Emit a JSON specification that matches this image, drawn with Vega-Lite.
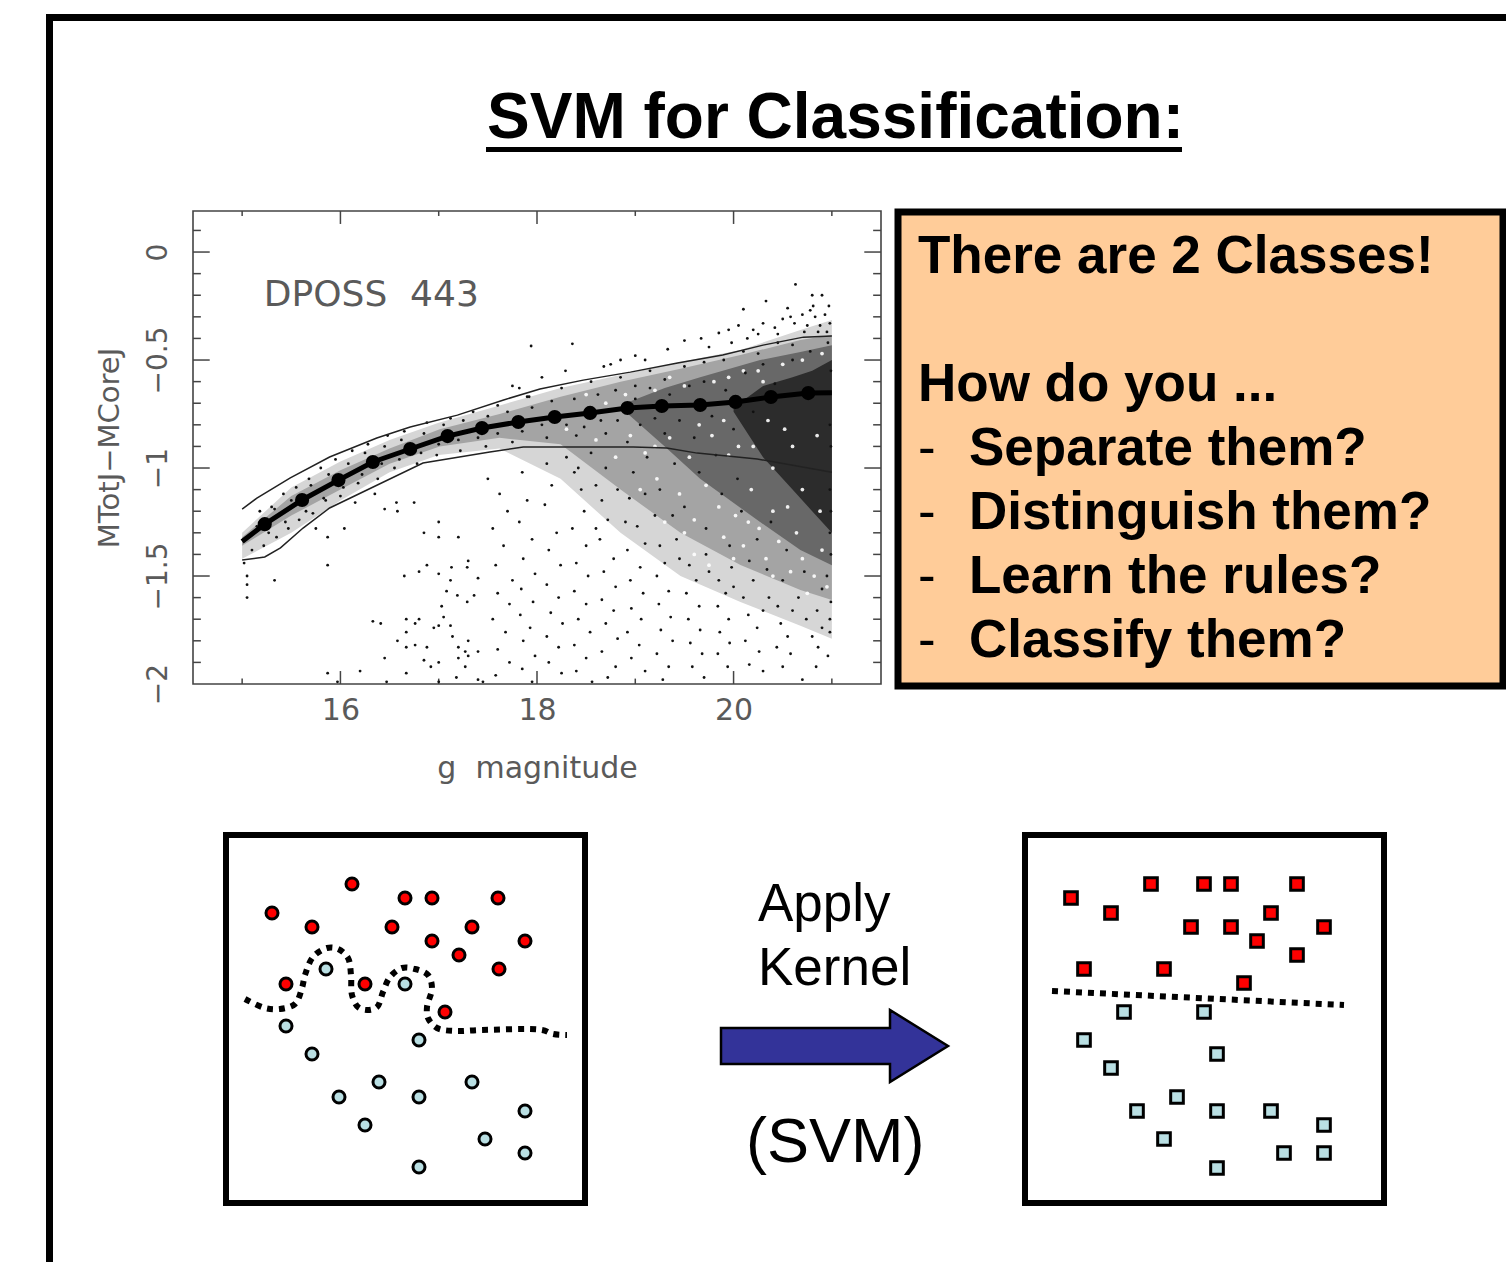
{
"$schema":"https://vega.github.io/schema/vega-lite/v6.json",
"width":1506,"height":1262,"autosize":{"type":"fit","contains":"padding"},"padding":0,
"background":"white","config":{"view":{"stroke":null}},
"datasets":{
"frame":[{"g":14.5,"g2":21.5,"m":-2,"m2":0.19}],
"ticksX":[{"g":15,"a":-2,"b":-1.975},{"g":16,"a":-2,"b":-1.94},{"g":17,"a":-2,"b":-1.975},{"g":18,"a":-2,"b":-1.94},{"g":19,"a":-2,"b":-1.975},{"g":20,"a":-2,"b":-1.94},{"g":21,"a":-2,"b":-1.975},{"g":15,"a":0.19,"b":0.167},{"g":16,"a":0.19,"b":0.13},{"g":17,"a":0.19,"b":0.167},{"g":18,"a":0.19,"b":0.13},{"g":19,"a":0.19,"b":0.167},{"g":20,"a":0.19,"b":0.13},{"g":21,"a":0.19,"b":0.167}],
"ticksY":[{"m":0.1,"a":14.5,"b":14.58},{"m":0,"a":14.5,"b":14.67},{"m":-0.1,"a":14.5,"b":14.58},{"m":-0.2,"a":14.5,"b":14.58},{"m":-0.3,"a":14.5,"b":14.58},{"m":-0.4,"a":14.5,"b":14.58},{"m":-0.5,"a":14.5,"b":14.67},{"m":-0.6,"a":14.5,"b":14.58},{"m":-0.7,"a":14.5,"b":14.58},{"m":-0.8,"a":14.5,"b":14.58},{"m":-0.9,"a":14.5,"b":14.58},{"m":-1,"a":14.5,"b":14.67},{"m":-1.1,"a":14.5,"b":14.58},{"m":-1.2,"a":14.5,"b":14.58},{"m":-1.3,"a":14.5,"b":14.58},{"m":-1.4,"a":14.5,"b":14.58},{"m":-1.5,"a":14.5,"b":14.67},{"m":-1.6,"a":14.5,"b":14.58},{"m":-1.7,"a":14.5,"b":14.58},{"m":-1.8,"a":14.5,"b":14.58},{"m":-1.9,"a":14.5,"b":14.58},{"m":0.1,"a":21.5,"b":21.42},{"m":0,"a":21.5,"b":21.33},{"m":-0.1,"a":21.5,"b":21.42},{"m":-0.2,"a":21.5,"b":21.42},{"m":-0.3,"a":21.5,"b":21.42},{"m":-0.4,"a":21.5,"b":21.42},{"m":-0.5,"a":21.5,"b":21.33},{"m":-0.6,"a":21.5,"b":21.42},{"m":-0.7,"a":21.5,"b":21.42},{"m":-0.8,"a":21.5,"b":21.42},{"m":-0.9,"a":21.5,"b":21.42},{"m":-1,"a":21.5,"b":21.33},{"m":-1.1,"a":21.5,"b":21.42},{"m":-1.2,"a":21.5,"b":21.42},{"m":-1.3,"a":21.5,"b":21.42},{"m":-1.4,"a":21.5,"b":21.42},{"m":-1.5,"a":21.5,"b":21.33},{"m":-1.6,"a":21.5,"b":21.42},{"m":-1.7,"a":21.5,"b":21.42},{"m":-1.8,"a":21.5,"b":21.42},{"m":-1.9,"a":21.5,"b":21.42}],
"bands":[
{"l":"1","g":15,"t":-1.3,"u":-1.42},{"l":"1","g":15.5,"t":-1.09,"u":-1.3},{"l":"1","g":16,"t":-0.97,"u":-1.15},{"l":"1","g":16.5,"t":-0.87,"u":-1.02},{"l":"1","g":17,"t":-0.79,"u":-0.94},{"l":"1","g":17.62,"t":-0.71,"u":-0.91},{"l":"1","g":18.24,"t":-0.63,"u":-1.05},{"l":"1","g":18.85,"t":-0.569,"u":-1.3},{"l":"1","g":19.46,"t":-0.509,"u":-1.5},{"l":"1","g":20.07,"t":-0.454,"u":-1.62},{"l":"1","g":20.68,"t":-0.361,"u":-1.73},{"l":"1","g":21,"t":-0.315,"u":-1.79},
{"l":"2","g":15,"t":-1.32,"u":-1.36},{"l":"2","g":15.5,"t":-1.13,"u":-1.22},{"l":"2","g":16,"t":-1.01,"u":-1.1},{"l":"2","g":16.5,"t":-0.91,"u":-0.98},{"l":"2","g":17.01,"t":-0.82,"u":-0.9},{"l":"2","g":17.62,"t":-0.75,"u":-0.86},{"l":"2","g":18.24,"t":-0.67,"u":-0.89},{"l":"2","g":18.85,"t":-0.6,"u":-1.1},{"l":"2","g":19.46,"t":-0.54,"u":-1.3},{"l":"2","g":20.07,"t":-0.477,"u":-1.449},{"l":"2","g":20.68,"t":-0.407,"u":-1.565},{"l":"2","g":21,"t":-0.384,"u":-1.611},
{"l":"3","g":18.9,"t":-0.7,"u":-0.74},{"l":"3","g":19.3,"t":-0.63,"u":-0.9},{"l":"3","g":19.66,"t":-0.58,"u":-1.05},{"l":"3","g":20.27,"t":-0.5,"u":-1.25},{"l":"3","g":20.68,"t":-0.463,"u":-1.38},{"l":"3","g":21,"t":-0.431,"u":-1.45},
{"l":"4","g":20,"t":-0.72,"u":-0.74},{"l":"4","g":20.3,"t":-0.62,"u":-0.95},{"l":"4","g":20.6,"t":-0.58,"u":-1.1},{"l":"4","g":20.8,"t":-0.55,"u":-1.2},{"l":"4","g":21,"t":-0.5,"u":-1.3}],
"curves":[
{"k":"upper","g":15,"m":-1.19},{"k":"upper","g":15.15,"m":-1.139},{"k":"upper","g":15.49,"m":-1.046},{"k":"upper","g":15.89,"m":-0.949},{"k":"upper","g":16.37,"m":-0.861},{"k":"upper","g":16.71,"m":-0.81},{"k":"upper","g":17.19,"m":-0.755},{"k":"upper","g":17.66,"m":-0.685},{"k":"upper","g":18.03,"m":-0.634},{"k":"upper","g":18.47,"m":-0.593},{"k":"upper","g":18.95,"m":-0.556},{"k":"upper","g":19.43,"m":-0.514},{"k":"upper","g":19.89,"m":-0.477},{"k":"upper","g":20.3,"m":-0.431},{"k":"upper","g":20.71,"m":-0.394},{"k":"upper","g":21,"m":-0.389},
{"k":"lower","g":15,"m":-1.426},{"k":"lower","g":15.23,"m":-1.412},{"k":"lower","g":15.39,"m":-1.37},{"k":"lower","g":15.62,"m":-1.278},{"k":"lower","g":15.89,"m":-1.185},{"k":"lower","g":16.27,"m":-1.102},{"k":"lower","g":16.84,"m":-0.977},{"k":"lower","g":17.52,"m":-0.926},{"k":"lower","g":17.86,"m":-0.903},{"k":"lower","g":18.37,"m":-0.903},{"k":"lower","g":18.98,"m":-0.903},{"k":"lower","g":19.32,"m":-0.907},{"k":"lower","g":19.63,"m":-0.931},{"k":"lower","g":20.24,"m":-0.958},{"k":"lower","g":21,"m":-1.02}],
"locus":[{"g":15,"m":-1.34},{"g":15.23,"m":-1.26},{"g":15.61,"m":-1.148},{"g":15.98,"m":-1.056},{"g":16.33,"m":-0.972},{"g":16.71,"m":-0.912},{"g":17.09,"m":-0.852},{"g":17.44,"m":-0.815},{"g":17.81,"m":-0.787},{"g":18.18,"m":-0.764},{"g":18.54,"m":-0.745},{"g":18.92,"m":-0.722},{"g":19.27,"m":-0.713},{"g":19.66,"m":-0.708},{"g":20.02,"m":-0.694},{"g":20.38,"m":-0.671},{"g":20.76,"m":-0.653},{"g":21,"m":-0.652}],
"dark":[{"g":15.02,"m":-1.44},{"g":15.05,"m":-1.5},{"g":15.05,"m":-1.54},{"g":15.05,"m":-1.6},{"g":15.33,"m":-1.52},{"g":16.04,"m":-1.28},{"g":15.87,"m":-1.32},{"g":15.87,"m":-1.45},{"g":16.45,"m":-1.19},{"g":16.57,"m":-1.16},{"g":16.58,"m":-1.2},{"g":16.75,"m":-1.16},{"g":17,"m":-1.25},{"g":16.85,"m":-1.3},{"g":17,"m":-1.32},{"g":17.2,"m":-1.32},{"g":17.3,"m":-1.43},{"g":16.88,"m":-1.45},{"g":16.8,"m":-1.48},{"g":17,"m":-1.49},{"g":16.65,"m":-1.5},{"g":17.13,"m":-1.46},{"g":17.29,"m":-1.46},{"g":17.4,"m":-1.51},{"g":17.08,"m":-1.57},{"g":17.12,"m":-1.52},{"g":17.29,"m":-1.62},{"g":17.19,"m":-1.59},{"g":17.36,"m":-1.59},{"g":17.03,"m":-1.64},{"g":17.05,"m":-1.69},{"g":17.12,"m":-1.73},{"g":17,"m":-1.73},{"g":16.95,"m":-1.74},{"g":16.8,"m":-1.7},{"g":16.76,"m":-1.72},{"g":16.67,"m":-1.7},{"g":16.33,"m":-1.71},{"g":16.41,"m":-1.72},{"g":16.67,"m":-1.76},{"g":16.58,"m":-1.8},{"g":16.67,"m":-1.83},{"g":16.76,"m":-1.82},{"g":16.88,"m":-1.83},{"g":17.14,"m":-1.78},{"g":17.2,"m":-1.83},{"g":17.27,"m":-1.85},{"g":17.3,"m":-1.8},{"g":17.4,"m":-1.85},{"g":17.2,"m":-1.88},{"g":17.3,"m":-1.87},{"g":17.27,"m":-1.92},{"g":16.85,"m":-1.89},{"g":16.92,"m":-1.92},{"g":17,"m":-1.9},{"g":16.45,"m":-1.88},{"g":16.67,"m":-1.95},{"g":16.2,"m":-1.94},{"g":15.87,"m":-1.95},{"g":15.97,"m":-1.99},{"g":17.18,"m":-1.97},{"g":16.47,"m":-1.99},{"g":17,"m":-1.99},{"g":17.45,"m":-1.99},{"g":17.4,"m":-1.98},
{"g":17.5,"m":-1.05},{"g":17.62,"m":-1.12},{"g":17.7,"m":-1.2},{"g":17.55,"m":-1.28},{"g":17.66,"m":-1.36},{"g":17.58,"m":-1.45},{"g":17.75,"m":-1.52},{"g":17.6,"m":-1.58},{"g":17.72,"m":-1.63},{"g":17.55,"m":-1.7},{"g":17.68,"m":-1.76},{"g":17.6,"m":-1.84},{"g":17.72,"m":-1.9},{"g":17.58,"m":-1.96},{"g":17.85,"m":-1.02},{"g":17.9,"m":-1.15},{"g":17.82,"m":-1.25},{"g":17.95,"m":-1.33},{"g":17.86,"m":-1.42},{"g":17.98,"m":-1.49},{"g":17.84,"m":-1.56},{"g":17.96,"m":-1.62},{"g":17.83,"m":-1.68},{"g":17.93,"m":-1.74},{"g":17.86,"m":-1.8},{"g":17.98,"m":-1.87},{"g":17.85,"m":-1.93},{"g":17.95,"m":-1.99},{"g":18.1,"m":-0.98},{"g":18.15,"m":-1.08},{"g":18.08,"m":-1.17},{"g":18.2,"m":-1.3},{"g":18.12,"m":-1.38},{"g":18.24,"m":-1.45},{"g":18.1,"m":-1.54},{"g":18.22,"m":-1.6},{"g":18.14,"m":-1.67},{"g":18.26,"m":-1.72},{"g":18.1,"m":-1.78},{"g":18.22,"m":-1.83},{"g":18.12,"m":-1.9},{"g":18.25,"m":-1.95},{"g":18.38,"m":-1.02},{"g":18.45,"m":-1.1},{"g":18.36,"m":-1.28},{"g":18.5,"m":-1.36},{"g":18.4,"m":-1.44},{"g":18.52,"m":-1.5},{"g":18.38,"m":-1.57},{"g":18.5,"m":-1.63},{"g":18.42,"m":-1.7},{"g":18.54,"m":-1.76},{"g":18.38,"m":-1.82},{"g":18.5,"m":-1.88},{"g":18.4,"m":-1.94},{"g":18.56,"m":-1.99},{"g":18.66,"m":-1.15},{"g":18.72,"m":-1.24},{"g":18.64,"m":-1.33},{"g":18.78,"m":-1.42},{"g":18.68,"m":-1.48},{"g":18.8,"m":-1.55},{"g":18.66,"m":-1.61},{"g":18.78,"m":-1.66},{"g":18.7,"m":-1.72},{"g":18.82,"m":-1.79},{"g":18.66,"m":-1.85},{"g":18.8,"m":-1.92},{"g":18.72,"m":-1.97},{"g":18.98,"m":-1.02},{"g":18.94,"m":-1.14},{"g":19.02,"m":-1.27},{"g":18.92,"m":-1.38},{"g":19.05,"m":-1.46},{"g":18.95,"m":-1.52},{"g":19.08,"m":-1.58},{"g":18.96,"m":-1.65},{"g":19.06,"m":-1.7},{"g":18.92,"m":-1.76},{"g":19.04,"m":-1.82},{"g":18.96,"m":-1.88},{"g":19.1,"m":-1.94},{"g":19.25,"m":-1.36},{"g":19.3,"m":-1.44},{"g":19.22,"m":-1.5},{"g":19.34,"m":-1.57},{"g":19.24,"m":-1.63},{"g":19.36,"m":-1.69},{"g":19.26,"m":-1.75},{"g":19.38,"m":-1.8},{"g":19.22,"m":-1.86},{"g":19.34,"m":-1.92},{"g":19.28,"m":-1.98},{"g":19.55,"m":-1.45},{"g":19.62,"m":-1.52},{"g":19.52,"m":-1.58},{"g":19.65,"m":-1.64},{"g":19.54,"m":-1.7},{"g":19.66,"m":-1.75},{"g":19.56,"m":-1.81},{"g":19.68,"m":-1.86},{"g":19.58,"m":-1.92},{"g":19.7,"m":-1.97},{"g":19.85,"m":-1.52},{"g":19.92,"m":-1.58},{"g":19.84,"m":-1.64},{"g":19.95,"m":-1.7},{"g":19.86,"m":-1.76},{"g":19.96,"m":-1.81},{"g":19.84,"m":-1.86},{"g":19.94,"m":-1.92},{"g":20.15,"m":-1.68},{"g":20.24,"m":-1.74},{"g":20.12,"m":-1.8},{"g":20.26,"m":-1.85},{"g":20.16,"m":-1.91},{"g":20.3,"m":-1.94},{"g":20.48,"m":-1.72},{"g":20.55,"m":-1.78},{"g":20.44,"m":-1.83},{"g":20.58,"m":-1.86},{"g":20.5,"m":-1.92},{"g":20.7,"m":-1.98},{"g":20.8,"m":-1.78},{"g":20.9,"m":-1.74},{"g":20.98,"m":-1.7},{"g":20.98,"m":-1.76},{"g":20.86,"m":-1.83},{"g":20.96,"m":-1.87},{"g":20.84,"m":-1.92},
{"g":20.63,"m":-0.15},{"g":20.8,"m":-0.2},{"g":20.9,"m":-0.2},{"g":20.33,"m":-0.227},{"g":20.97,"m":-0.25},{"g":20.81,"m":-0.25},{"g":20.1,"m":-0.265},{"g":20.58,"m":-0.3},{"g":20.05,"m":-0.34},{"g":19.85,"m":-0.375},{"g":17.94,"m":-0.435},{"g":18.36,"m":-0.425},{"g":18.29,"m":-0.55},{"g":18.68,"m":-0.53},{"g":18.75,"m":-0.52},{"g":19,"m":-0.48},{"g":19.33,"m":-0.45},{"g":19.5,"m":-0.41},{"g":19.67,"m":-0.4},{"g":17.82,"m":-0.63},{"g":17.9,"m":-0.67},{"g":20.2,"m":-0.36},{"g":20.3,"m":-0.33},{"g":20.42,"m":-0.35},{"g":20.5,"m":-0.31},{"g":20.62,"m":-0.33},{"g":20.7,"m":-0.29},{"g":20.75,"m":-0.34},{"g":20.83,"m":-0.3},{"g":20.88,"m":-0.34},{"g":20.93,"m":-0.29},{"g":20.98,"m":-0.33},{"g":20.72,"m":-0.37},{"g":20.86,"m":-0.37},{"g":19.98,"m":-0.42},{"g":20.14,"m":-0.4},
{"g":15.1,"m":-1.38},{"g":15.18,"m":-1.2},{"g":15.22,"m":-1.36},{"g":15.3,"m":-1.18},{"g":15.35,"m":-1.32},{"g":15.42,"m":-1.12},{"g":15.47,"m":-1.28},{"g":15.55,"m":-1.09},{"g":15.58,"m":-1.24},{"g":15.68,"m":-1.05},{"g":15.72,"m":-1.21},{"g":15.8,"m":-1},{"g":15.85,"m":-1.15},{"g":15.95,"m":-0.96},{"g":16,"m":-1.13},{"g":16.12,"m":-0.92},{"g":16.18,"m":-1.07},{"g":16.28,"m":-0.89},{"g":16.38,"m":-1.05},{"g":16.48,"m":-0.85},{"g":16.55,"m":-1},{"g":16.65,"m":-0.83},{"g":16.78,"m":-0.98},{"g":16.88,"m":-0.79},{"g":16.98,"m":-0.94},{"g":17.12,"m":-0.77},{"g":17.22,"m":-0.92},{"g":17.35,"m":-0.74},{"g":17.48,"m":-0.9},{"g":17.6,"m":-0.71},{"g":17.75,"m":-0.88},{"g":17.92,"m":-0.67},{"g":18.1,"m":-0.86},{"g":18.25,"m":-0.63},{"g":18.4,"m":-0.85},{"g":18.55,"m":-0.6},{"g":18.7,"m":-0.84},{"g":18.85,"m":-0.58},{"g":19,"m":-0.62},{"g":19.15,"m":-0.55},{"g":19.3,"m":-0.59},{"g":19.5,"m":-0.53},{"g":19.7,"m":-0.51},{"g":19.9,"m":-0.5},{"g":20.1,"m":-0.46},{"g":20.25,"m":-0.47},{"g":20.45,"m":-0.42},{"g":20.6,"m":-0.43},
{"g":15.15,"m":-1.27},{"g":15.27,"m":-1.3},{"g":15.33,"m":-1.19},{"g":15.44,"m":-1.25},{"g":15.5,"m":-1.15},{"g":15.65,"m":-1.2},{"g":15.7,"m":-1.08},{"g":15.83,"m":-1.14},{"g":15.88,"m":-1.03},{"g":16.03,"m":-1.09},{"g":16.08,"m":-0.98},{"g":16.22,"m":-1.03},{"g":16.25,"m":-0.93},{"g":16.42,"m":-0.98},{"g":16.45,"m":-0.9},{"g":16.6,"m":-0.96},{"g":16.62,"m":-0.87},{"g":16.82,"m":-0.93},{"g":16.85,"m":-0.84},{"g":17,"m":-0.89},{"g":17.05,"m":-0.8},{"g":17.2,"m":-0.87},{"g":17.25,"m":-0.78},{"g":17.4,"m":-0.86},{"g":17.5,"m":-0.76},{"g":17.6,"m":-0.84},{"g":17.7,"m":-0.74},{"g":17.85,"m":-0.83},{"g":17.95,"m":-0.72},{"g":18.05,"m":-0.8},{"g":18.15,"m":-0.69},{"g":18.3,"m":-0.8},{"g":18.38,"m":-0.68},{"g":18.48,"m":-0.81},{"g":18.62,"m":-0.66},{"g":18.65,"m":-0.78},{"g":18.8,"m":-0.64},{"g":18.82,"m":-0.78},{"g":18.92,"m":-0.88},{"g":19,"m":-0.68},{"g":19.05,"m":-0.8},{"g":19.12,"m":-0.95},{"g":19.15,"m":-0.63},{"g":19.2,"m":-0.77},{"g":19.25,"m":-1.1},{"g":19.3,"m":-0.84},{"g":19.35,"m":-0.66},{"g":19.4,"m":-0.98},{"g":19.45,"m":-0.78},{"g":19.5,"m":-1.18},{"g":19.55,"m":-0.62},{"g":19.6,"m":-0.86},{"g":19.65,"m":-1.02},{"g":19.7,"m":-0.6},{"g":19.72,"m":-1.28},{"g":19.78,"m":-0.76},{"g":19.82,"m":-0.94},{"g":19.88,"m":-1.12},{"g":19.92,"m":-0.64},{"g":19.96,"m":-1.36},{"g":20,"m":-0.82},{"g":20.04,"m":-1.05},{"g":20.08,"m":-1.2},{"g":20.12,"m":-0.56},{"g":20.16,"m":-1.43},{"g":20.2,"m":-0.74},{"g":20.24,"m":-1.33},{"g":20.3,"m":-0.52},{"g":20.34,"m":-1.47},{"g":20.38,"m":-1.25},{"g":20.42,"m":-0.61},{"g":20.5,"m":-1.52},{"g":20.54,"m":-1.38},{"g":20.6,"m":-0.5},{"g":20.66,"m":-1.6},{"g":20.72,"m":-1.48},{"g":20.78,"m":-0.46},{"g":20.85,"m":-1.66},{"g":20.9,"m":-1.56},{"g":20.96,"m":-0.42},{"g":20.99,"m":-1.62},
{"g":18.3,"m":-0.95},{"g":18.42,"m":-1},{"g":18.55,"m":-0.93},{"g":18.6,"m":-1.08},{"g":18.7,"m":-1},{"g":18.48,"m":-1.2},{"g":18.82,"m":-1.1},{"g":18.9,"m":-1.25},{"g":18.6,"m":-1.28},{"g":19.1,"m":-1.12},{"g":19.1,"m":-1.35},{"g":19.2,"m":-1.22},{"g":19.38,"m":-1.22},{"g":19.42,"m":-1.33},{"g":19.45,"m":-1.42},{"g":19.72,"m":-1.4},{"g":19.75,"m":-1.48},{"g":19.98,"m":-1.46},{"g":20,"m":-1.55},{"g":20.2,"m":-1.52},{"g":20.1,"m":-1.6},{"g":20.36,"m":-1.6},{"g":20.3,"m":-1.66},{"g":20.6,"m":-1.66},{"g":20.45,"m":-1.64},{"g":20.74,"m":-1.7},{"g":20.95,"m":-1.5},{"g":20.99,"m":-1.4},{"g":20.98,"m":-1.3},{"g":20.99,"m":-1.2},{"g":20.98,"m":-1.1},{"g":20.99,"m":-0.9},{"g":20.98,"m":-0.8},{"g":20.99,"m":-0.55},
{"g":15.75,"m":-1.28},{"g":16.15,"m":-1.16},{"g":16.35,"m":-1.12},{"g":17.75,"m":-0.62},{"g":18.05,"m":-0.58},{"g":18.85,"m":-0.5},{"g":19.1,"m":-0.5},{"g":19.75,"m":-0.44},{"g":19.95,"m":-0.36},{"g":20.25,"m":-0.38},{"g":20.45,"m":-0.38},{"g":20.55,"m":-0.26},{"g":20.78,"m":-0.27},{"g":20.95,"m":-0.37}],
"white":[{"g":18.6,"m":-0.87},{"g":18.3,"m":-0.82},{"g":18.8,"m":-0.95},{"g":18.95,"m":-0.85},{"g":19.1,"m":-0.93},{"g":19.22,"m":-1.05},{"g":19.35,"m":-0.86},{"g":19.45,"m":-1.12},{"g":19.55,"m":-0.95},{"g":19.6,"m":-1.24},{"g":19.72,"m":-1.08},{"g":19.78,"m":-0.85},{"g":19.85,"m":-1.18},{"g":19.9,"m":-1.32},{"g":19.95,"m":-0.94},{"g":20.02,"m":-1.22},{"g":20.1,"m":-1.36},{"g":20.18,"m":-1.1},{"g":20.2,"m":-0.9},{"g":20.26,"m":-1.28},{"g":20.33,"m":-1.42},{"g":20.4,"m":-1.2},{"g":20.46,"m":-1.34},{"g":20.52,"m":-0.82},{"g":20.58,"m":-1.48},{"g":20.64,"m":-1.3},{"g":20.7,"m":-1.42},{"g":20.82,"m":-1.5},{"g":20.9,"m":-1.38},{"g":20.95,"m":-1.55},{"g":20.1,"m":-0.55},{"g":20.3,"m":-0.6},{"g":20.5,"m":-0.52},{"g":20.7,"m":-0.5},{"g":20.9,"m":-0.47},{"g":19.8,"m":-0.6},{"g":19.5,"m":-0.62},{"g":19.2,"m":-0.64},{"g":18.9,"m":-0.66},{"g":19.6,"m":-1.4},{"g":19.3,"m":-1.25},{"g":19.75,"m":-1.45},{"g":19.2,"m":-0.9},{"g":19.65,"m":-0.8},{"g":19.9,"m":-0.78},{"g":20.05,"m":-0.9},{"g":20.35,"m":-0.78},{"g":20.4,"m":-1},{"g":20.6,"m":-0.9},{"g":20.7,"m":-1.1},{"g":20.85,"m":-0.85},{"g":20.88,"m":-1.2},{"g":20.15,"m":-1.25},{"g":20.55,"m":-1.18},{"g":18.5,"m":-0.66},{"g":18.7,"m":-0.7},{"g":19.35,"m":-0.58},{"g":19.95,"m":-0.58},{"g":20.25,"m":-0.55},{"g":19.05,"m":-1.1},{"g":19.5,"m":-1.3},{"g":20,"m":-1.42},{"g":20.4,"m":-1.5},{"g":20.75,"m":-1.58}],
"label":[{"g":15.22,"m":-0.25,"t":"DPOSS\u00a0\u00a0443"}],
"rects":[{"x":46,"x2":53,"y":14,"y2":1262},{"x":46,"x2":1506,"y":14,"y2":21},{"x":486,"x2":1182,"y":147,"y2":152}],
"box":[{"x":898,"x2":1503,"y":212,"y2":686}],
"panels":[{"x":226,"x2":585,"y":835,"y2":1203},{"x":1025,"x2":1384,"y":835,"y2":1203}],
"title":[{"x":487,"y":138,"t":"SVM for Classification:"}],
"boxText":[{"x":918,"y":273,"t":"There are 2 Classes!"},{"x":918,"y":401,"t":"How do you ..."},{"x":969,"y":465,"t":"Separate them?"},{"x":969,"y":529,"t":"Distinguish them?"},{"x":969,"y":593,"t":"Learn the rules?"},{"x":969,"y":657,"t":"Classify them?"}],
"dashes":[{"x":918,"y":465,"t":"-"},{"x":918,"y":529,"t":"-"},{"x":918,"y":593,"t":"-"},{"x":918,"y":657,"t":"-"}],
"apply":[{"x":758,"y":921,"t":"Apply"},{"x":758,"y":985,"t":"Kernel"}],
"svm":[{"x":746,"y":1162,"t":"(SVM)"}],
"arrow":[{"x":721,"y":1028,"y2":1064},{"x":890,"y":1028,"y2":1064},{"x":890,"y":1010,"y2":1082},{"x":948,"y":1046,"y2":1046}],
"circles":[{"c":"red","x":352,"y":884},{"c":"red","x":405,"y":898},{"c":"red","x":432,"y":898},{"c":"red","x":498,"y":898},{"c":"red","x":272,"y":913},{"c":"red","x":312,"y":927},{"c":"red","x":392,"y":927},{"c":"red","x":472,"y":927},{"c":"red","x":432,"y":941},{"c":"red","x":525,"y":941},{"c":"red","x":459,"y":955},{"c":"red","x":499,"y":969},{"c":"red","x":286,"y":984},{"c":"red","x":365,"y":984},{"c":"red","x":445,"y":1012},{"c":"blue","x":326,"y":969},{"c":"blue","x":405,"y":984},{"c":"blue","x":286,"y":1026},{"c":"blue","x":419,"y":1040},{"c":"blue","x":312,"y":1054},{"c":"blue","x":379,"y":1082},{"c":"blue","x":472,"y":1082},{"c":"blue","x":339,"y":1097},{"c":"blue","x":419,"y":1097},{"c":"blue","x":525,"y":1111},{"c":"blue","x":365,"y":1125},{"c":"blue","x":485,"y":1139},{"c":"blue","x":525,"y":1153},{"c":"blue","x":419,"y":1167}],
"squares":[{"c":"red","x":1151,"y":884},{"c":"red","x":1204,"y":884},{"c":"red","x":1231,"y":884},{"c":"red","x":1297,"y":884},{"c":"red","x":1071,"y":898},{"c":"red","x":1111,"y":913},{"c":"red","x":1271,"y":913},{"c":"red","x":1191,"y":927},{"c":"red","x":1231,"y":927},{"c":"red","x":1324,"y":927},{"c":"red","x":1257,"y":941},{"c":"red","x":1297,"y":955},{"c":"red","x":1084,"y":969},{"c":"red","x":1164,"y":969},{"c":"red","x":1244,"y":983},{"c":"blue","x":1124,"y":1012},{"c":"blue","x":1204,"y":1012},{"c":"blue","x":1084,"y":1040},{"c":"blue","x":1217,"y":1054},{"c":"blue","x":1111,"y":1068},{"c":"blue","x":1177,"y":1097},{"c":"blue","x":1137,"y":1111},{"c":"blue","x":1217,"y":1111},{"c":"blue","x":1271,"y":1111},{"c":"blue","x":1324,"y":1125},{"c":"blue","x":1164,"y":1139},{"c":"blue","x":1284,"y":1153},{"c":"blue","x":1324,"y":1153},{"c":"blue","x":1217,"y":1168}],
"sep":[{"k":"a","i":1,"x":245,"y":999},{"k":"a","i":2,"x":265,"y":1008},{"k":"a","i":3,"x":280,"y":1009},{"k":"a","i":4,"x":295,"y":1004},{"k":"a","i":5,"x":302,"y":988},{"k":"a","i":6,"x":305,"y":975},{"k":"a","i":7,"x":313,"y":957},{"k":"a","i":8,"x":327,"y":948},{"k":"a","i":9,"x":338,"y":949},{"k":"a","i":10,"x":348,"y":958},{"k":"a","i":11,"x":351,"y":975},{"k":"a","i":12,"x":352,"y":995},{"k":"a","i":13,"x":358,"y":1007},{"k":"a","i":14,"x":367,"y":1010},{"k":"a","i":15,"x":377,"y":1007},{"k":"a","i":16,"x":383,"y":992},{"k":"a","i":17,"x":390,"y":977},{"k":"a","i":18,"x":402,"y":968},{"k":"a","i":19,"x":415,"y":969},{"k":"a","i":20,"x":428,"y":975},{"k":"a","i":21,"x":432,"y":988},{"k":"a","i":22,"x":427,"y":1007},{"k":"a","i":23,"x":428,"y":1018},{"k":"a","i":24,"x":437,"y":1028},{"k":"a","i":25,"x":455,"y":1031},{"k":"a","i":26,"x":482,"y":1030},{"k":"a","i":27,"x":542,"y":1030},{"k":"a","i":28,"x":553,"y":1034},{"k":"a","i":29,"x":567,"y":1035},{"k":"b","i":1,"x":1052,"y":991},{"k":"b","i":2,"x":1344,"y":1005}]
},
"layer":[
{"data":{"name":"frame"},"mark":{"type":"rect","filled":false,"stroke":"#444444","strokeWidth":1.6},
 "encoding":{
 "x":{"field":"g","type":"quantitative","scale":{"domain":[14.5,21.5],"range":[193,881],"nice":false,"zero":false},
  "axis":{"orient":"bottom","offset":-578,"values":[16,18,20],"grid":false,"domain":false,"ticks":false,"labelFont":"DejaVu Sans","labelFontSize":30,"labelColor":"#5a5a5a","labelPadding":11,"labelFlush":false,"format":"d","title":"g\u00a0\u00a0magnitude","titleFont":"DejaVu Sans","titleFontSize":30,"titleFontWeight":"normal","titleColor":"#5a5a5a","titlePadding":28}},
 "x2":{"field":"g2"},
 "y":{"field":"m","type":"quantitative","scale":{"domain":[-2,0.19],"range":[684,211],"nice":false,"zero":false},
  "axis":{"orient":"left","offset":-193,"values":[0,-0.5,-1,-1.5,-2],"grid":false,"domain":false,"ticks":false,"labelFont":"DejaVu Sans","labelFontSize":28,"labelColor":"#5a5a5a","labelPadding":21,"labelAngle":-90,"labelAlign":"center","labelBaseline":"bottom","labelFlush":false,"labelExpr":"replace(''+datum.value,'-','−')","title":"MTotJ−MCoreJ","titleFont":"DejaVu Sans","titleFontSize":29,"titleFontWeight":"normal","titleColor":"#5a5a5a","titlePadding":20}},
 "y2":{"field":"m2"}}},
{"layer":[
{"data":{"name":"ticksX"},"mark":{"type":"rule","color":"#444444","strokeWidth":1.5},"encoding":{"x":{"field":"g","type":"quantitative","axis":null,"scale":{"domain":[14.5,21.5],"range":[193,881],"nice":false,"zero":false}},"y":{"field":"a","type":"quantitative","axis":null,"scale":{"domain":[-2,0.19],"range":[684,211],"nice":false,"zero":false}},"y2":{"field":"b"}}},
{"data":{"name":"ticksY"},"mark":{"type":"rule","color":"#444444","strokeWidth":1.5},"encoding":{"y":{"field":"m","type":"quantitative","axis":null},"x":{"field":"a","type":"quantitative","axis":null},"x2":{"field":"b"}}},
{"data":{"name":"bands"},"mark":{"type":"area","stroke":null},"encoding":{"x":{"field":"g","type":"quantitative","axis":null},"y":{"field":"t","type":"quantitative","axis":null},"y2":{"field":"u"},"color":{"field":"l","type":"nominal","legend":null,"scale":{"domain":["1","2","3","4"],"range":["#d6d6d6","#a4a4a4","#686868","#2c2c2c"]}}}},
{"data":{"name":"white"},"mark":{"type":"circle","color":"white","size":14,"opacity":0.9},"encoding":{"x":{"field":"g","type":"quantitative","axis":null},"y":{"field":"m","type":"quantitative","axis":null}}},
{"data":{"name":"dark"},"mark":{"type":"circle","color":"#111111","size":8,"opacity":1},"encoding":{"x":{"field":"g","type":"quantitative","axis":null},"y":{"field":"m","type":"quantitative","axis":null}}},
{"data":{"name":"curves"},"mark":{"type":"line","color":"#222222","strokeWidth":1.5},"encoding":{"x":{"field":"g","type":"quantitative","axis":null},"y":{"field":"m","type":"quantitative","axis":null},"detail":{"field":"k"}}},
{"data":{"name":"locus"},"mark":{"type":"line","color":"black","strokeWidth":5},"encoding":{"x":{"field":"g","type":"quantitative","axis":null},"y":{"field":"m","type":"quantitative","axis":null}}},
{"data":{"name":"locus"},"transform":[{"filter":"datum.g>15 && datum.g<21"}],"mark":{"type":"circle","color":"black","size":200,"opacity":1},"encoding":{"x":{"field":"g","type":"quantitative","axis":null},"y":{"field":"m","type":"quantitative","axis":null}}},
{"data":{"name":"label"},"mark":{"type":"text","font":"DejaVu Sans","fontSize":36,"color":"#5a5a5a","align":"left","baseline":"alphabetic"},"encoding":{"x":{"field":"g","type":"quantitative","axis":null},"y":{"field":"m","type":"quantitative","axis":null},"text":{"field":"t"}}}
]},
{"layer":[
{"data":{"name":"box"},"mark":{"type":"rect","fill":"#FFCC99","stroke":"black","strokeWidth":7},"encoding":{"x":{"field":"x","type":"quantitative","axis":null,"scale":{"domain":[0,1506],"range":[0,1506],"nice":false,"zero":false}},"x2":{"field":"x2"},"y":{"field":"y","type":"quantitative","axis":null,"scale":{"domain":[0,1262],"range":[0,1262],"nice":false,"zero":false}},"y2":{"field":"y2"}}},
{"data":{"name":"panels"},"mark":{"type":"rect","fill":"white","stroke":"black","strokeWidth":6},"encoding":{"x":{"field":"x","type":"quantitative","axis":null},"x2":{"field":"x2"},"y":{"field":"y","type":"quantitative","axis":null},"y2":{"field":"y2"}}},
{"data":{"name":"rects"},"mark":{"type":"rect","fill":"black"},"encoding":{"x":{"field":"x","type":"quantitative","axis":null},"x2":{"field":"x2"},"y":{"field":"y","type":"quantitative","axis":null},"y2":{"field":"y2"}}},
{"data":{"name":"title"},"mark":{"type":"text","font":"Liberation Sans","fontWeight":"bold","fontSize":64,"align":"left","baseline":"alphabetic","color":"black"},"encoding":{"x":{"field":"x","type":"quantitative","axis":null},"y":{"field":"y","type":"quantitative","axis":null},"text":{"field":"t"}}},
{"data":{"name":"boxText"},"mark":{"type":"text","font":"Liberation Sans","fontWeight":"bold","fontSize":53,"align":"left","baseline":"alphabetic","color":"black"},"encoding":{"x":{"field":"x","type":"quantitative","axis":null},"y":{"field":"y","type":"quantitative","axis":null},"text":{"field":"t"}}},
{"data":{"name":"dashes"},"mark":{"type":"text","font":"Liberation Sans","fontSize":53,"align":"left","baseline":"alphabetic","color":"black"},"encoding":{"x":{"field":"x","type":"quantitative","axis":null},"y":{"field":"y","type":"quantitative","axis":null},"text":{"field":"t"}}},
{"data":{"name":"apply"},"mark":{"type":"text","font":"Liberation Sans","fontSize":53,"align":"left","baseline":"alphabetic","color":"black"},"encoding":{"x":{"field":"x","type":"quantitative","axis":null},"y":{"field":"y","type":"quantitative","axis":null},"text":{"field":"t"}}},
{"data":{"name":"svm"},"mark":{"type":"text","font":"Liberation Sans","fontSize":63,"align":"left","baseline":"alphabetic","color":"black"},"encoding":{"x":{"field":"x","type":"quantitative","axis":null},"y":{"field":"y","type":"quantitative","axis":null},"text":{"field":"t"}}},
{"data":{"name":"arrow"},"mark":{"type":"area","fill":"#333399","stroke":"black","strokeWidth":2.5},"encoding":{"x":{"field":"x","type":"quantitative","axis":null},"y":{"field":"y","type":"quantitative","axis":null},"y2":{"field":"y2"}}},
{"data":{"name":"circles"},"mark":{"type":"point","shape":"circle","filled":true,"size":145,"stroke":"black","strokeWidth":3,"opacity":1},"encoding":{"x":{"field":"x","type":"quantitative","axis":null},"y":{"field":"y","type":"quantitative","axis":null},"fill":{"field":"c","type":"nominal","legend":null,"scale":{"domain":["red","blue"],"range":["#FF0000","#B9DFE3"]}}}},
{"data":{"name":"squares"},"mark":{"type":"point","shape":"square","filled":true,"size":160,"stroke":"black","strokeWidth":3,"opacity":1},"encoding":{"x":{"field":"x","type":"quantitative","axis":null},"y":{"field":"y","type":"quantitative","axis":null},"fill":{"field":"c","type":"nominal","legend":null,"scale":{"domain":["red","blue"],"range":["#FF0000","#B9DFE3"]}}}},
{"data":{"name":"sep"},"mark":{"type":"line","interpolate":"catmull-rom","color":"black","strokeWidth":6,"strokeDash":[6,6]},"encoding":{"x":{"field":"x","type":"quantitative","axis":null},"y":{"field":"y","type":"quantitative","axis":null},"detail":{"field":"k"},"order":{"field":"i"}}}
]}
],
"resolve":{"scale":{"x":"independent","y":"independent"},"axis":{"x":"independent","y":"independent"}}
}
